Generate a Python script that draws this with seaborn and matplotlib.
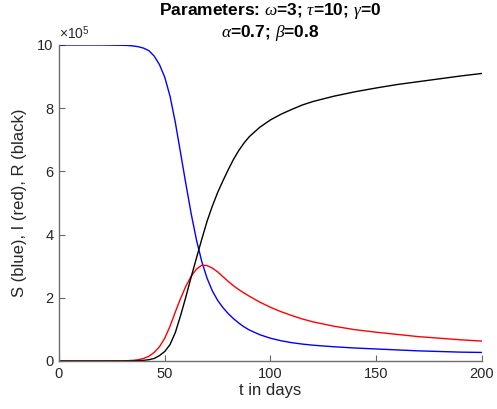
import matplotlib
matplotlib.use('Agg')

import matplotlib.pyplot as plt
import seaborn as sns
import pandas as pd

# time in days and S/I/R in units of 1e5 people
t_days = [0, 10, 20, 30, 32.5, 35, 37.5, 40, 42.5, 45, 47.5, 50, 52.5, 55,
          57.5, 60, 62.5, 65, 67.5, 70, 72.5, 75, 77.5, 80, 82.5, 85, 87.5,
          90, 95, 100, 105, 110, 115, 120, 130, 140, 150, 160, 170, 180,
          190, 200]
S_vals = [10.0, 10.0, 10.0, 9.99, 9.985, 9.97, 9.945, 9.90, 9.82, 9.65,
          9.38, 8.98, 8.38, 7.55, 6.58, 5.60, 4.66, 3.83, 3.15, 2.62, 2.22,
          1.92, 1.69, 1.50, 1.34, 1.20, 1.08, 0.98, 0.83, 0.72, 0.64, 0.58,
          0.535, 0.50, 0.45, 0.41, 0.38, 0.35, 0.32, 0.30, 0.28, 0.27]
I_vals = [0.0, 0.0, 0.0, 0.005, 0.01, 0.02, 0.04, 0.08, 0.15, 0.27, 0.45,
          0.72, 1.10, 1.55, 1.98, 2.37, 2.68, 2.91, 3.03, 3.02, 2.94, 2.82,
          2.67, 2.52, 2.38, 2.26, 2.15, 2.05, 1.86, 1.70, 1.56, 1.44, 1.33,
          1.24, 1.10, 0.99, 0.91, 0.84, 0.77, 0.72, 0.67, 0.63]
R_vals = [0.0, 0.0, 0.0, 0.0, 0.002, 0.005, 0.01, 0.02, 0.04, 0.08, 0.17,
          0.30, 0.52, 0.90, 1.44, 2.03, 2.66, 3.26, 3.85, 4.42, 4.90, 5.33,
          5.70, 6.05, 6.38, 6.66, 6.90, 7.10, 7.40, 7.63, 7.81, 7.96, 8.10,
          8.21, 8.38, 8.52, 8.64, 8.75, 8.84, 8.93, 9.02, 9.10]

x_ticks = [0, 50, 100, 150, 200]
y_ticks = [0, 2, 4, 6, 8, 10]


def main():
    sns.set_theme(style='white')
    plt.rcParams['font.family'] = ['Liberation Sans', 'DejaVu Sans']
    plt.rcParams['mathtext.fontset'] = 'custom'
    plt.rcParams['mathtext.rm'] = 'Liberation Sans'
    plt.rcParams['mathtext.it'] = 'Liberation Serif:italic'
    plt.rcParams['mathtext.bf'] = 'Liberation Sans:bold'

    df = pd.DataFrame({
        't': t_days * 3,
        'value': S_vals + I_vals + R_vals,
        'group': ['S'] * len(t_days) + ['I'] * len(t_days) + ['R'] * len(t_days),
    })

    fig = plt.figure(figsize=(4.97, 4.09), dpi=100)
    ax = fig.add_axes([0.1187, 0.1174, 0.8511, 0.7726])
    sns.lineplot(data=df, x='t', y='value', hue='group', ax=ax,
                 palette={'S': '#0000ff', 'I': '#ff0000', 'R': '#000000'},
                 linewidth=1.0, legend=False)

    ax.set_xlim(0, 200)
    ax.set_ylim(0, 10)
    ax.set_xticks(x_ticks)
    ax.set_yticks(y_ticks)
    gray = '#262626'
    ax.tick_params(direction='in', length=4, width=0.8, colors='#666666',
                   labelcolor=gray, labelsize=10.5, pad=4,
                   bottom=True, left=True)
    for side in ['top', 'right']:
        ax.spines[side].set_visible(False)
    for side in ['left', 'bottom']:
        ax.spines[side].set_color('#6e6e6e')
        ax.spines[side].set_linewidth(1.0)

    ax.set_xlabel('t in days', fontsize=12, color=gray, labelpad=2)
    ax.set_ylabel('S (blue), I (red), R (black)', fontsize=12, color=gray, labelpad=7)
    ax.text(0.0, 1.008, r'$\times10^{5}$', transform=ax.transAxes,
            fontsize=10, color=gray, ha='left', va='bottom')
    ax.set_title('Parameters: $\\omega$=3; $\\tau$=10; $\\gamma$=0\n$\\alpha$=0.7; $\\beta$=0.8',
                 fontsize=12.5, fontweight='bold', color='black', pad=6, linespacing=1.15)

    fig.savefig('out.png', dpi=100)


if __name__ == "__main__":
    main()
